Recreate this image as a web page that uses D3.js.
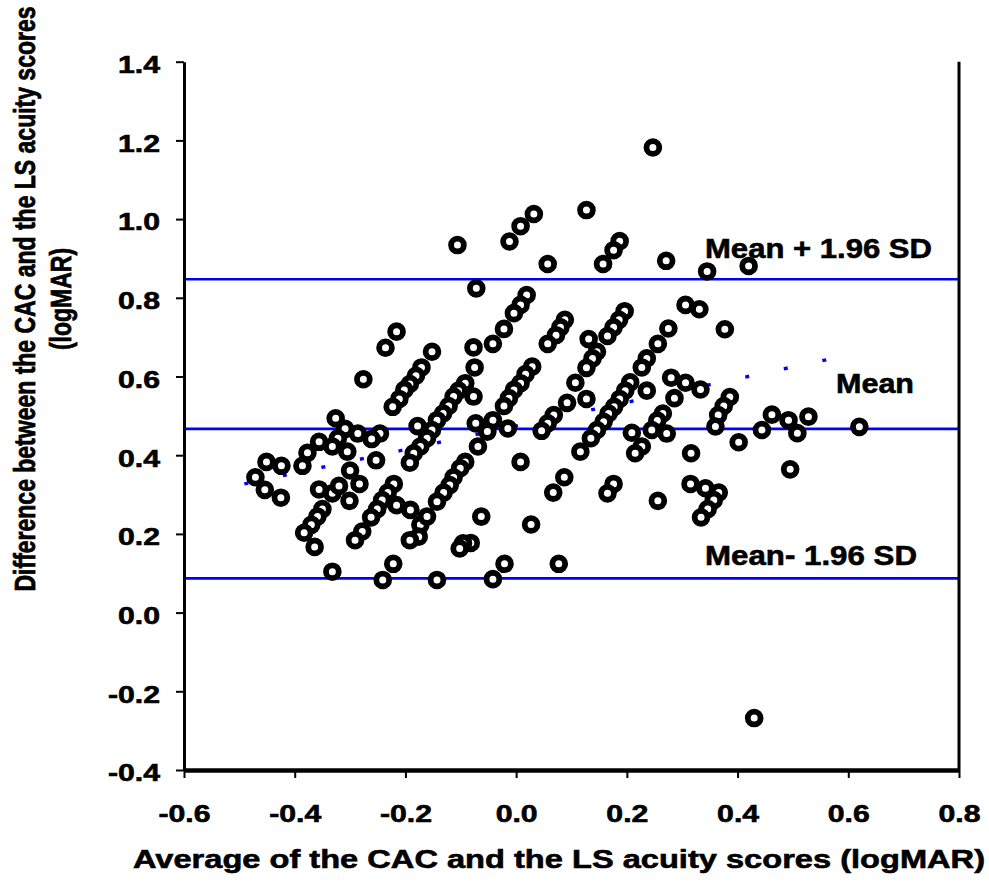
<!DOCTYPE html>
<html>
<head>
<meta charset="utf-8">
<script src="https://cdn.jsdelivr.net/npm/d3@7"></script>
<style>
  body { margin: 0; background: #fff; }
  text { font-family: "Liberation Sans", Arial, sans-serif; font-weight: bold; fill: #000;
         stroke: #000; stroke-width: 0.6px; }
</style>
</head>
<body>
<div id="chart"></div>
<script>
// average of the two scores (logMAR)
const avgScores = [
  0.247, 0.127, 0.032, 0.008, -0.012, 0.187, 0.176, -0.106, 0.057, 0.157,
  0.271, 0.345, 0.420, -0.072, 0.019, 0.008, -0.004, -0.022, -0.042, 0.088,
  0.080, 0.072, 0.057, 0.196, 0.186, 0.176, 0.165, 0.275, 0.256, 0.306,
  0.331, 0.377, 0.131, 0.146, 0.138, 0.127, 0.236, 0.227, 0.029, 0.017,
  0.008, -0.004, -0.013, -0.022, 0.107, 0.092, 0.127, 0.206, 0.197, 0.187,
  0.177, 0.167, 0.158, 0.146, 0.135, 0.236, 0.280, 0.306, 0.333, 0.286,
  0.386, 0.375, 0.365, 0.360, 0.265, 0.255, 0.245, 0.272, 0.068, 0.057,
  0.046, -0.073, -0.042, -0.052, -0.015, 0.209, 0.444, 0.462, 0.402, -0.069,
  0.116, 0.227, 0.215, 0.316, 0.008, 0.087, 0.067, 0.176, 0.165, 0.256,
  0.315, 0.342, 0.366, 0.357, 0.346, 0.334, -0.063, 0.027, -0.082, -0.021,
  -0.042, 0.077, 0.492, 0.528, 0.508, 0.620, 0.495, 0.430, -0.216, -0.236,
  -0.276, -0.152, -0.077, -0.075, -0.171, -0.181, -0.192, -0.202, -0.211, -0.223,
  -0.092, -0.104, -0.113, -0.122, -0.132, -0.143, -0.152, -0.161, -0.173, -0.077,
  -0.326, -0.309, -0.286, -0.246, -0.261, -0.178, -0.356, -0.322, -0.377, -0.332,
  -0.305, -0.386, -0.451, -0.424, -0.471, -0.454, -0.425, -0.253, -0.300, -0.283,
  -0.356, -0.332, -0.320, -0.301, -0.350, -0.359, -0.370, -0.383, -0.364, -0.221,
  -0.232, -0.242, -0.251, -0.262, -0.278, -0.291, -0.216, -0.191, -0.173, -0.161,
  -0.176, -0.192, -0.185, -0.192, -0.092, -0.101, -0.113, -0.120, -0.131, -0.143,
  -0.096, -0.102, -0.332, -0.222, -0.241, -0.143
];
// difference between the two scores (logMAR)
const diffScores = [
  1.182, 1.023, 1.013, 0.982, 0.943, 0.944, 0.921, 0.934, 0.886, 0.886,
  0.894, 0.867, 0.881, 0.824, 0.807, 0.782, 0.761, 0.721, 0.683, 0.744,
  0.725, 0.705, 0.683, 0.766, 0.744, 0.725, 0.703, 0.722, 0.683, 0.782,
  0.771, 0.720, 0.695, 0.663, 0.646, 0.622, 0.646, 0.623, 0.625, 0.606,
  0.583, 0.566, 0.545, 0.525, 0.584, 0.533, 0.543, 0.585, 0.564, 0.543,
  0.523, 0.506, 0.485, 0.464, 0.443, 0.564, 0.597, 0.584, 0.567, 0.545,
  0.548, 0.525, 0.502, 0.473, 0.506, 0.488, 0.464, 0.455, 0.502, 0.481,
  0.462, 0.481, 0.489, 0.460, 0.468, 0.457, 0.464, 0.503, 0.433, 0.422,
  0.409, 0.422, 0.405, 0.405, 0.383, 0.344, 0.305, 0.327, 0.303, 0.284,
  0.327, 0.316, 0.305, 0.286, 0.263, 0.242, 0.244, 0.224, 0.177, 0.124,
  0.085, 0.124, 0.489, 0.498, 0.456, 0.472, 0.364, -0.268, 0.714, 0.673,
  0.593, 0.663, 0.674, 0.623, 0.623, 0.602, 0.581, 0.566, 0.543, 0.523,
  0.583, 0.564, 0.549, 0.525, 0.506, 0.489, 0.464, 0.443, 0.422, 0.549,
  0.494, 0.467, 0.455, 0.455, 0.441, 0.474, 0.434, 0.443, 0.406, 0.422,
  0.409, 0.373, 0.383, 0.373, 0.344, 0.312, 0.292, 0.387, 0.361, 0.327,
  0.313, 0.303, 0.322, 0.284, 0.263, 0.244, 0.223, 0.203, 0.167, 0.327,
  0.305, 0.286, 0.263, 0.242, 0.206, 0.184, 0.273, 0.261, 0.223, 0.244,
  0.193, 0.184, 0.405, 0.381, 0.383, 0.367, 0.344, 0.324, 0.305, 0.282,
  0.176, 0.163, 0.104, 0.124, 0.083, 0.083
];

const meanDiff = 0.467;
const upperLimit = 0.847;
const lowerLimit = 0.087;

// regression of difference on average (dotted line)
const trendX = [-0.491, 0.622];
const trendY = [0.327, 0.661];

const xTicks = [-0.6, -0.4, -0.2, 0.0, 0.2, 0.4, 0.6, 0.8];
const yTicks = [-0.4, -0.2, 0.0, 0.2, 0.4, 0.6, 0.8, 1.0, 1.2, 1.4];

const lineLabels = ["Mean + 1.96 SD", "Mean", "Mean- 1.96 SD"];
const xTitle = "Average of the CAC and the LS acuity scores (logMAR)";
const yTitle = ["Difference between the CAC and the LS acuity scores", "(logMAR)"];

const W = 989, H = 894;
const plot = { left: 184, right: 959, top: 61.7, bottom: 770 };

const svg = d3.select("#chart").append("svg")
  .attr("width", W)
  .attr("height", H);

svg.append("rect").attr("width", W).attr("height", H).attr("fill", "#fff");

const x = d3.scaleLinear().domain([-0.6, 0.8]).range([plot.left, plot.right]);
const y = d3.scaleLinear().domain([-0.4, 1.4]).range([plot.bottom, plot.top]);

// plain hyphen minus, like the source
const fmt = d => d.toFixed(1);

// stretch text horizontally, the source figure is wider than its fonts
function stretch(sel, sx) {
  sel.each(function() {
    const len = this.getComputedTextLength();
    d3.select(this)
      .attr("textLength", len * sx)
      .attr("lengthAdjust", "spacingAndGlyphs");
  });
}

// mean and limits of agreement
const limits = [upperLimit, meanDiff, lowerLimit];
svg.selectAll(".limit")
  .data(limits)
  .enter().append("line")
    .attr("class", "limit")
    .attr("x1", x(-0.6))
    .attr("x2", x(0.8))
    .attr("y1", d => y(d))
    .attr("y2", d => y(d))
    .attr("stroke", "#0000ff")
    .attr("stroke-width", 2.6);

// dotted trend line
svg.append("line")
  .attr("x1", x(trendX[0])).attr("y1", y(trendY[0]))
  .attr("x2", x(trendX[1])).attr("y2", y(trendY[1]))
  .attr("stroke", "#0000ff")
  .attr("stroke-width", 3.4)
  .attr("stroke-dasharray", "4 35.4");

// points
const points = avgScores.map((d, i) => ({ avg: d, diff: diffScores[i] }));
svg.selectAll(".pt")
  .data(points)
  .enter().append("circle")
    .attr("class", "pt")
    .attr("cx", d => x(d.avg))
    .attr("cy", d => y(d.diff))
    .attr("r", 6.4)
    .attr("fill", "#fff")
    .attr("stroke", "#000")
    .attr("stroke-width", 5.8);

// axes
const xAxis = svg.append("g")
  .attr("transform", "translate(0," + plot.bottom + ")")
  .call(d3.axisBottom(x).tickValues(xTicks).tickFormat(fmt)
    .tickSize(8).tickSizeOuter(0).tickPadding(27));
xAxis.select(".domain").attr("stroke-width", 4.5);
xAxis.selectAll(".tick line").attr("stroke-width", 2);
xAxis.selectAll("text")
  .attr("font-size", "24px")
  .attr("font-family", null)
  .call(stretch, 1.26);

const yAxis = svg.append("g")
  .attr("transform", "translate(" + plot.left + ",0)")
  .call(d3.axisLeft(y).tickValues(yTicks).tickFormat(fmt)
    .tickSize(8).tickSizeOuter(0).tickPadding(16));
yAxis.select(".domain").attr("stroke-width", 3);
yAxis.selectAll(".tick line").attr("stroke-width", 2);
yAxis.selectAll("text")
  .attr("font-size", "24px")
  .attr("font-family", null)
  .attr("dy", "0.45em")
  .call(stretch, 1.26);

// right border
svg.append("line")
  .attr("x1", x(0.8)).attr("x2", x(0.8))
  .attr("y1", y(1.4)).attr("y2", y(-0.4))
  .attr("stroke", "#000")
  .attr("stroke-width", 3);

// line labels
const labelPos = [
  { x: 705, y: 258, w: 227 },
  { x: 836, y: 393, w: 78 },
  { x: 705, y: 565, w: 212 }
];
lineLabels.forEach((t, i) => {
  svg.append("text")
    .attr("x", labelPos[i].x)
    .attr("y", labelPos[i].y)
    .attr("font-size", "28.5px")
    .attr("textLength", labelPos[i].w)
    .attr("lengthAdjust", "spacingAndGlyphs")
    .text(t);
});

// axis titles
svg.append("text")
  .attr("x", 559)
  .attr("y", 868)
  .attr("text-anchor", "middle")
  .attr("font-size", "26px")
  .attr("textLength", 852)
  .attr("lengthAdjust", "spacingAndGlyphs")
  .text(xTitle);

yTitle.forEach((t, i) => {
  svg.append("text")
    .attr("transform", "translate(" + (35 + i * 36) + ",299) scale(1.3,1) rotate(-90)")
    .attr("text-anchor", "middle")
    .attr("font-size", "23px")
    .text(t);
});
</script>
</body>
</html>
